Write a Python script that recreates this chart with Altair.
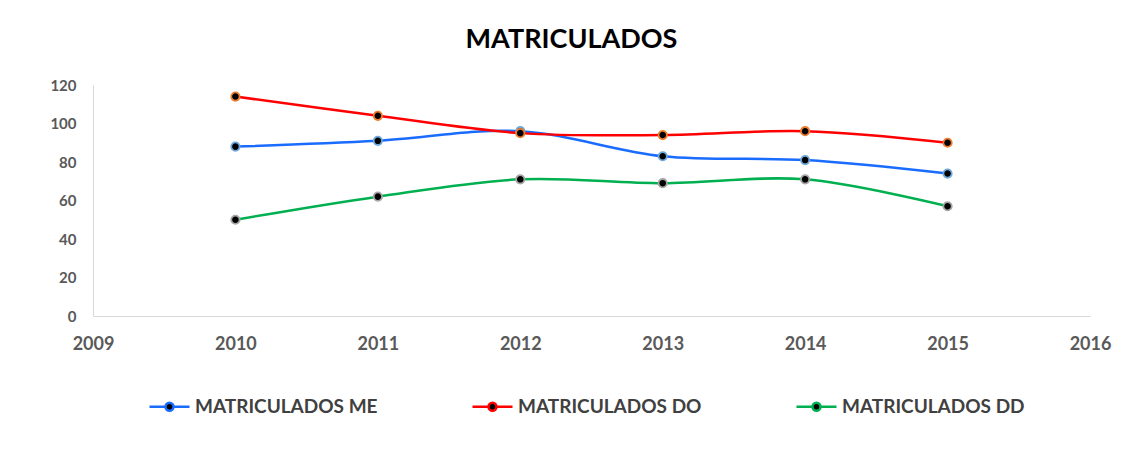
import altair as alt
import pandas as pd

years = [2010, 2011, 2012, 2013, 2014, 2015]
me = [88, 91, 96, 83, 81, 74]
do = [114, 104, 95, 94, 96, 90]
dd = [50, 62, 71, 69, 71, 57]
series = ["MATRICULADOS ME", "MATRICULADOS DO", "MATRICULADOS DD"]
line_colors = ["#1A6CFF", "#FF0000", "#00B050"]
marker_edges = ["#6FA8DC", "#ED7D31", "#A5A5A5"]
x_ticks = [2009, 2010, 2011, 2012, 2013, 2014, 2015, 2016]
y_ticks = [0, 20, 40, 60, 80, 100, 120]

rows = []
for name, vals in zip(series, [me, do, dd]):
    for yr, v in zip(years, vals):
        rows.append({"year": yr, "value": v, "serie": name})
df = pd.DataFrame(rows)

FONT = "Lato"
r = 0.2
sym = (f"M-1,0L-{r},0M{r},0L1,0M{r},0A{r},{r},0,1,1,-{r},0A{r},{r},0,1,1,{r},0Z")

x = alt.X("year:Q", scale=alt.Scale(domain=[2009, 2016], nice=False, zero=False),
          axis=alt.Axis(values=x_ticks, format="d", title=None, grid=False, ticks=False,
                        labelFlush=False, labelFontSize=18, labelFontWeight="bold",
                        labelColor="#595959", labelPadding=19, domainColor="#D9D9D9"))
y = alt.Y("value:Q", scale=alt.Scale(domain=[0, 120], nice=False),
          axis=alt.Axis(values=y_ticks, title=None, grid=False, ticks=False,
                        labelFontSize=15, labelFontWeight="bold", labelColor="#595959",
                        labelPadding=17, domainColor="#D9D9D9"))

lines = alt.Chart(df).mark_line(strokeWidth=2.5, interpolate="cardinal").encode(
    x=x, y=y,
    color=alt.Color("serie:N", scale=alt.Scale(domain=series, range=line_colors),
                    sort=series,
                    legend=alt.Legend(title=None, orient="none", legendX=55, legendY=300,
                                      direction="horizontal", columns=3, columnPadding=89,
                                      symbolType=sym, symbolSize=1600, symbolStrokeWidth=2.5,
                                      symbolFillColor="black", labelFont=FONT,
                                      labelFontSize=19, labelFontWeight="bold",
                                      labelColor="#404040",
                                      labelOffset=4, labelLimit=400)),
)
points = alt.Chart(df).mark_point(filled=True, fill="black", size=70, strokeWidth=1.8,
                                  opacity=1).encode(
    x=x, y=y,
    stroke=alt.Stroke("serie:N", scale=alt.Scale(domain=series, range=marker_edges),
                      legend=None),
)

chart = alt.layer(lines, points).resolve_scale(stroke="independent").properties(
    width=997, height=231,
    autosize=alt.AutoSizeParams(type="none"),
    padding={"left": 85, "top": 77, "right": 34, "bottom": 126},
    title=alt.Title("MATRICULADOS", fontSize=27, font=FONT, fontWeight="bold",
                    color="black", anchor="middle", dx=-20, offset=24),
).configure(font=FONT).configure_view(strokeWidth=0, stroke="transparent")

chart.save("out.html", embed_options={"renderer": "svg", "actions": False})
